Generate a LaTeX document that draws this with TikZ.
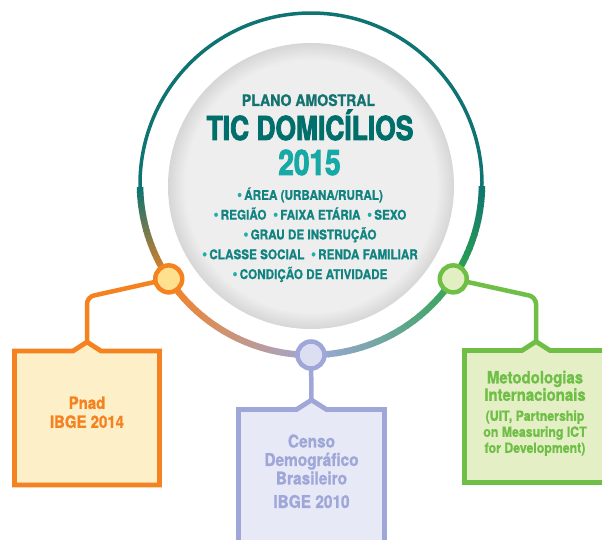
\documentclass[tikz,border=0pt]{standalone}
\usepackage{fontspec}
\setmainfont{TeX Gyre Heros}[FakeStretch=0.88, BoldFeatures={FakeBold=1}]
\newfontfamily\titlefont{TeX Gyre Heros}[FakeStretch=0.8, BoldFeatures={FakeBold=2.5}]
\usetikzlibrary{calc}

\definecolor{ringteal}{HTML}{0E7371}
\definecolor{ringgreen}{HTML}{2FA54F}
\definecolor{planoteal}{HTML}{127370}
\definecolor{titleteal}{HTML}{006F6B}
\definecolor{yearteal}{HTML}{16A9A6}
\definecolor{facetteal}{HTML}{118481}
\definecolor{bulletteal}{HTML}{1FAEAB}
\definecolor{discgrey}{HTML}{EEEEEE}
\definecolor{discedge}{HTML}{D6D6D6}
\definecolor{pnadline}{HTML}{F58220}
\definecolor{pnadfill}{HTML}{FDEFC8}
\definecolor{pnadpinfill}{HTML}{FFE08E}
\definecolor{censoline}{HTML}{9EA7D8}
\definecolor{censofill}{HTML}{E7E9F6}
\definecolor{censopinfill}{HTML}{DCDFF2}
\definecolor{metline}{HTML}{6FBF46}
\definecolor{metfill}{HTML}{E4EFC6}
\definecolor{metpinfill}{HTML}{E2EFC3}

\pgfdeclareradialshading{discshade}{\pgfpoint{0bp}{0bp}}{color(0bp)=(discgrey); color(22bp)=(discgrey); color(25bp)=(discedge); color(50bp)=(discedge)}

\newcommand{\bul}{{\color{bulletteal}\fontsize{16}{16}\selectfont\textbullet}\,}
\newcommand{\metsmall}{\fontsize{14}{16}\selectfont}

\begin{document}
\begin{tikzpicture}[
    x=1pt, y=1pt,
    % Styles
    disc/.style={ % Grey disc in the middle
        circle,
        minimum size=286pt,
        inner sep=0pt,
        shading=discshade
    },
    upring/.style={line width=3.5pt, draw=ringteal},
    lowring/.style={line width=6.5pt},
    pin/.style={ % Small circle on the ring
        circle,
        minimum size=27pt,
        inner sep=0pt,
        line width=4.5pt
    },
    link/.style={line width=4.5pt, rounded corners=7pt},
    frame/.style={inner sep=0pt, outer sep=0pt},
    boxedge/.style={line width=4.8pt, line join=miter},
    boxtext/.style={align=center, font=\bfseries\fontsize{17}{19}\selectfont},
    facet/.style={ % Lines of the sample plan
        anchor=base,
        text=facetteal,
        font=\bfseries\fontsize{13.3}{16}\selectfont
    }
]
    \useasboundingbox (0,0) rectangle (602,539);
    \clip (0,0) rectangle (602,539);

    % Disc and ring
    \coordinate (ctr) at (311,355);
    \node[disc] (disc) at (311,353) {};
    \draw[upring] (ctr) ++(-1:171) arc[start angle=-1, end angle=181, radius=171pt];
    \foreach \angA/\angB/\cfrom/\cinto in {181/213.7/ringteal/pnadline, 213.7/270/pnadline/censoline, 270/326.3/censoline/ringgreen, 326.3/359/ringgreen/ringteal}{
        \foreach \i in {0,...,19}{
            \pgfmathsetmacro\angS{\angA+(\angB-\angA)*\i/20}
            \pgfmathsetmacro\angE{\angA+(\angB-\angA)*(\i+1)/20+0.3}
            \pgfmathtruncatemacro\p{100-5*\i}
            \draw[lowring, draw=\cfrom!\p!\cinto] (ctr) ++(\angS:171) arc[start angle=\angS, end angle=\angE, radius=171pt];
        }
    }

    % Text in the disc
    \node[anchor=base, text=planoteal, font=\bfseries\fontsize{16}{16}\selectfont] (plano) at (308.5,433) {PLANO AMOSTRAL};
    \node[anchor=base, text=titleteal, font=\titlefont\bfseries\fontsize{33}{33}\selectfont] (title) at (310,399) {TIC DOMICÍLIOS};
    \node[anchor=base, text=yearteal, font=\titlefont\bfseries\fontsize{35}{35}\selectfont] (year) at (309.5,364) {2015};
    \foreach \txt [count=\k] in {{\bul ÁREA (URBANA/RURAL)}, {\bul REGIÃO\enspace\bul FAIXA ETÁRIA\enspace\bul SEXO}, {\bul GRAU DE INSTRUÇÃO}, {\bul CLASSE SOCIAL\enspace\bul RENDA FAMILIAR}, {\bul CONDIÇÃO DE ATIVIDADE}}
        \node[facet] (facet\k) at (310,359-19.8*\k) {\txt};

    % Boxes
    \node[frame, minimum width=145pt, minimum height=134pt] (pnad) at (87,121) {};
    \draw[boxedge, draw=pnadline, fill=pnadfill] (pnad.south west) -- (pnad.north west) -- ([xshift=-14pt]pnad.north) -- ([yshift=9pt]pnad.north) coordinate (pnadtip) -- ([xshift=14pt]pnad.north) -- (pnad.north east) -- (pnad.south east) -- cycle;
    \node[boxtext, text=pnadline] (pnadtext) at (87,126.7) {Pnad\\IBGE 2014};

    \node[frame, minimum width=146pt, minimum height=150pt] (censo) at (311.5,54.5) {};
    \draw[boxedge, draw=censoline, fill=censofill] (censo.south west) -- (censo.north west) -- ([xshift=-15pt]censo.north) -- ([yshift=9.5pt]censo.north) coordinate (censotip) -- ([xshift=15pt]censo.north) -- (censo.north east) -- (censo.south east) -- cycle;
    \node[boxtext, text=censoline, font=\bfseries\fontsize{17.5}{18.5}\selectfont] (censotext) at (311.5,67.7) {Censo\\Demográfico\\Brasileiro\\[5pt]IBGE 2010};

    \node[frame, minimum width=143pt, minimum height=132pt] (met) at (536,122.5) {};
    \draw[boxedge, draw=metline, fill=metfill] (met.south west) -- (met.north west) -- ([xshift=-14pt]met.north) -- ([yshift=9pt]met.north) coordinate (mettip) -- ([xshift=14pt]met.north) -- (met.north east) -- (met.south east) -- cycle;
    \node[boxtext, text=metline, font=\bfseries\fontsize{17}{16}\selectfont] (mettext) at (535,125.7) {Metodologias\\Internacionais\\[4pt]{\metsmall(UIT, Partnership}\\{\metsmall on Measuring ICT}\\{\metsmall for Development)}};

    % Links from the ring to the boxes
    \draw[link, draw=pnadline] (pnadtip) -- ++(0,45) -- ($(ctr)+(213.7:171)$);
    \draw[link, draw=censoline] (censotip) -- ($(ctr)+(270:171)$);
    \draw[link, draw=metline] (mettip) -- ++(0,44.5) -- ($(ctr)+(326.3:171)$);

    % Pins on the ring
    \node[pin, draw=pnadline, fill=pnadpinfill] (pnadpin) at ($(ctr)+(213.7:171)$) {};
    \node[pin, draw=censoline, fill=censopinfill] (censopin) at ($(ctr)+(270:171)$) {};
    \node[pin, draw=metline, fill=metpinfill] (metpin) at ($(ctr)+(326.3:171)$) {};
\end{tikzpicture}
\end{document}
